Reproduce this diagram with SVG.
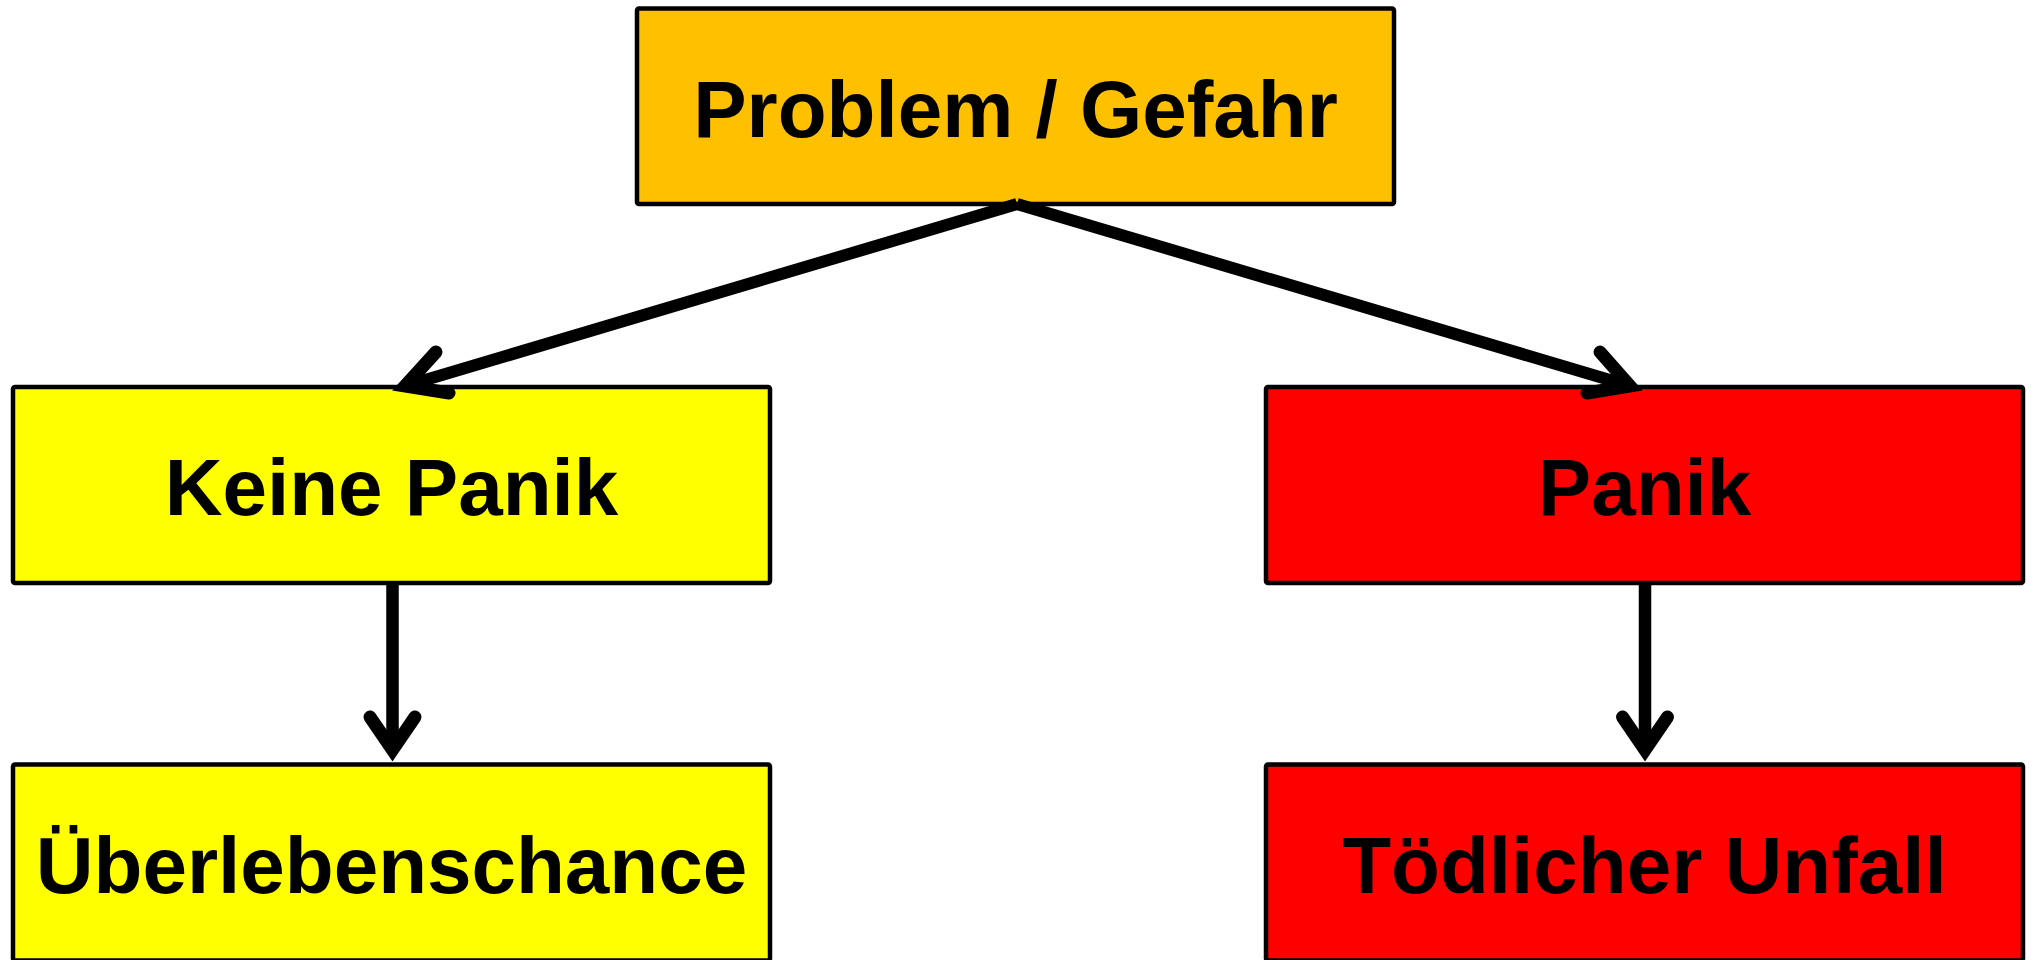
<svg xmlns="http://www.w3.org/2000/svg" width="2034" height="960" viewBox="0 0 2034 960">
  <style>
    .box { stroke: #000; stroke-width: 4.5; stroke-linejoin: round; }
    .label { font-family: "Liberation Sans", Arial, sans-serif; font-weight: bold; font-size: 80px; fill: #000; text-anchor: middle; }
    .line { fill: none; stroke: #000; stroke-linecap: butt; }
    .head { fill: none; stroke: #000; stroke-width: 13; stroke-linecap: round; stroke-linejoin: miter; stroke-miterlimit: 10; }
  </style>
  <rect width="2034" height="960" fill="#fff"/>

  <g id="node-problem">
    <rect class="box" x="637" y="8.5" width="757" height="195.5" rx="2" fill="#FFC000"/>
    <text class="label" x="1015.5" y="137">Problem / Gefahr</text>
  </g>
  <g id="node-keine-panik">
    <rect class="box" x="13" y="387" width="757" height="196" rx="2" fill="#FFFF00"/>
    <text class="label" x="391.5" y="515">Keine Panik</text>
  </g>
  <g id="node-panik">
    <rect class="box" x="1266" y="387" width="757" height="196" rx="2" fill="#FF0000"/>
    <text class="label" x="1644.5" y="515">Panik</text>
  </g>
  <g id="node-ueberlebenschance">
    <rect class="box" x="13" y="764.5" width="757" height="196" rx="2" fill="#FFFF00"/>
    <text class="label" x="391.5" y="893">Überlebenschance</text>
  </g>
  <g id="node-toedlicher-unfall">
    <rect class="box" x="1266" y="764.5" width="757" height="196" rx="2" fill="#FF0000"/>
    <text class="label" x="1644.5" y="893">Tödlicher Unfall</text>
  </g>

  <g id="connectors">
    <!-- Problem -> Keine Panik -->
    <line class="line" x1="1017" y1="204" x2="405" y2="386" stroke-width="12"/>
    <polyline class="head" points="436,352 405,386 449,393"/>
    <!-- Problem -> Panik -->
    <line class="line" x1="1017" y1="204" x2="1630" y2="386" stroke-width="12"/>
    <polyline class="head" points="1600,352 1630,386 1587,393"/>
    <!-- Keine Panik -> Überlebenschance -->
    <line class="line" x1="392.5" y1="583" x2="392.5" y2="750" stroke-width="12.5"/>
    <polyline class="head" points="370,717 392.5,750 415,717"/>
    <!-- Panik -> Tödlicher Unfall -->
    <line class="line" x1="1645" y1="583" x2="1645" y2="750" stroke-width="12.5"/>
    <polyline class="head" points="1622.5,717 1645,750 1667.5,717"/>
  </g>
</svg>
